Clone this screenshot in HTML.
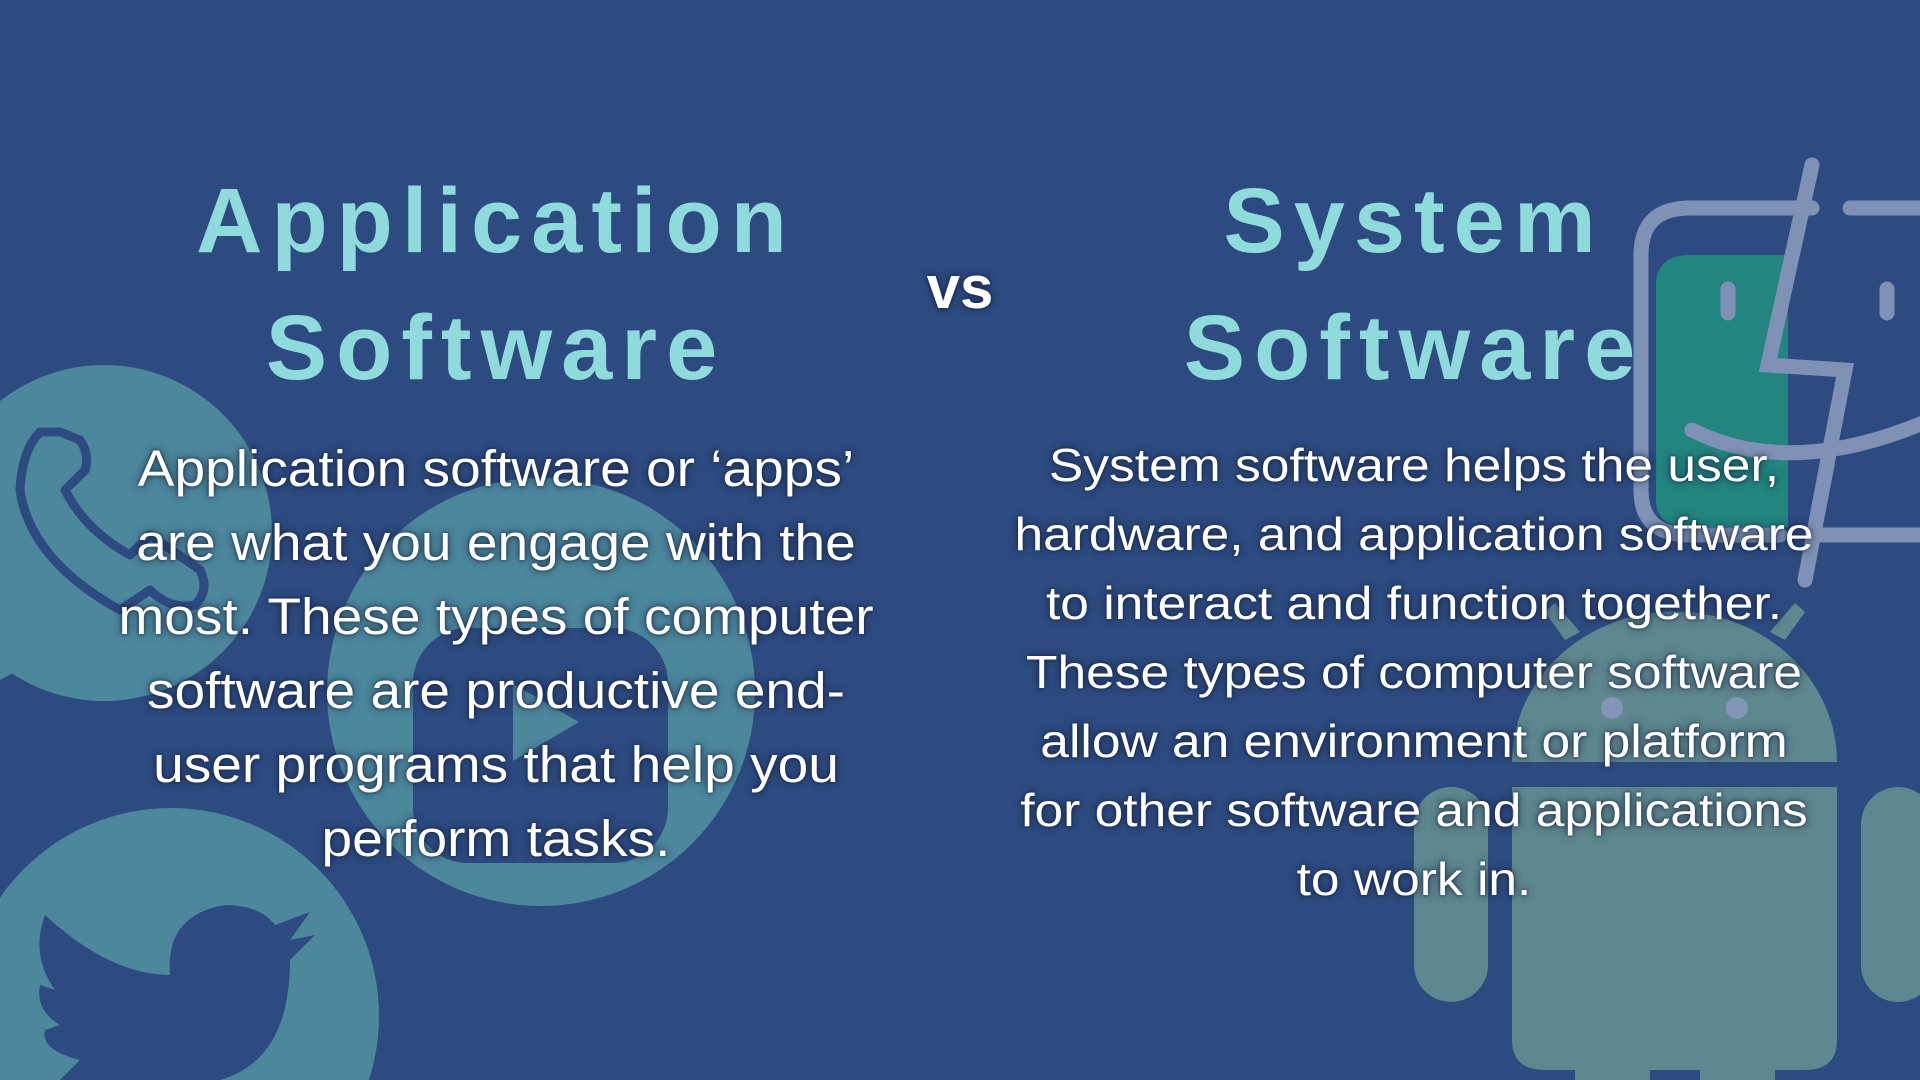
<!DOCTYPE html>
<html><head><meta charset="utf-8"><style>
html,body{margin:0;padding:0;width:1920px;height:1080px;overflow:hidden;}
body{background:#2d4b80;position:relative;font-family:"Liberation Sans",sans-serif;}
svg{position:absolute;left:0;top:0;}
.t{position:absolute;color:#8fdadb;font-weight:bold;font-size:92px;letter-spacing:9px;text-align:center;white-space:nowrap;line-height:127px;}
.p{position:absolute;color:#fff;text-align:center;white-space:nowrap;text-shadow:0 0 8px rgba(20,30,60,.8),0 0 3px rgba(20,30,60,.7);transform-origin:center top;}
</style></head><body>
<svg width="1920" height="1080" viewBox="0 0 1920 1080">
 <circle cx="104" cy="533" r="168" fill="#4c879c"/>
 <path d="M0 600 L0 680 L18 670 L60 640 Z" fill="#4c879c"/>
 <path d="M40 432 Q22 450 20 490 Q30 560 120 610 L135 600 L150 590 Q170 610 195 605 Q210 590 200 570 L150 535 L130 555 Q85 530 65 490 L85 470 Q90 455 80 440 L60 432 Z" fill="none" stroke="#2d4b80" stroke-width="9" stroke-linejoin="round"/>
 <circle cx="541" cy="692" r="214" fill="#4c879c"/>
 <rect x="413" y="628" width="255" height="235" rx="55" fill="#2d4b80"/>
 <path d="M513 684 L579 722 L513 761 Z" fill="#4c879c"/>
 <circle cx="171" cy="1016" r="208" fill="#4c879c"/>
 <path d="M45 915 Q110 975 170 975 Q165 915 225 905 Q260 905 275 925 L310 912 L290 940 L315 935 L290 960 Q290 1060 220 1080 L60 1080 L80 1060 Q40 1050 45 1030 L60 1025 Q35 1010 40 985 L55 990 Q30 955 45 915 Z" fill="#2d4b80"/>
 <path d="M1690 255 L1788 255 L1788 527 L1690 527 Q1656 527 1656 500 L1656 280 Q1660 255 1690 255 Z" fill="#22857f"/>
 <g fill="none" stroke="#7f92b5" stroke-width="15" stroke-linecap="round">
  <path d="M1812 208 L1690 208 Q1641 208 1641 255 L1641 490 Q1641 535 1690 535 L1780 535"/>
  <path d="M1850 208 L1930 208"/>
  <path d="M1812 535 L1930 535"/>
  <path d="M1812 165 L1768 365 L1845 370 L1805 580"/>
  <path d="M1728 289 L1728 313"/><path d="M1887 289 L1887 313"/>
  <path d="M1692 430 Q1790 480 1930 420"/>
 </g>
 <g fill="#5e878f">
  <path d="M1512 762 A162 150 0 0 1 1837 762 Z"/>
  <path d="M1565 640 L1545 612 L1555 603 L1580 632 Z"/>
  <path d="M1785 640 L1805 612 L1795 603 L1770 632 Z"/>
  <path d="M1512 787 L1837 787 L1837 1040 Q1837 1070 1805 1070 L1545 1070 Q1512 1070 1512 1040 Z"/>
  <rect x="1575" y="1040" width="75" height="40"/>
  <rect x="1700" y="1040" width="75" height="40"/>
  <rect x="1414" y="787" width="74" height="215" rx="37"/>
  <rect x="1861" y="787" width="74" height="215" rx="37"/>
 </g>
 <circle cx="1612" cy="708" r="11" fill="#8396b8"/>
 <circle cx="1737" cy="708" r="11" fill="#8396b8"/>
</svg>

<div class="t" style="left:0;width:992px;top:158px;">Application<br>Software</div>
<div class="t" style="left:918px;width:992px;top:158px;">System<br>Software</div>
<div class="p" style="left:910px;width:100px;top:248px;font-size:60px;font-weight:bold;line-height:80px;">vs</div>

<div class="p" style="left:0;width:992px;top:432px;font-size:51px;line-height:74px;transform:scaleX(1.08);">Application software or ‘apps’<br>are what you engage with the<br>most. These types of computer<br>software are productive end-<br>user programs that help you<br>perform tasks.</div>

<div class="p" style="left:918px;width:992px;top:431px;font-size:46px;line-height:69px;transform:scaleX(1.12);">System software helps the user,<br>hardware, and application software<br>to interact and function together.<br>These types of computer software<br>allow an environment or platform<br>for other software and applications<br>to work in.</div>
</body></html>
